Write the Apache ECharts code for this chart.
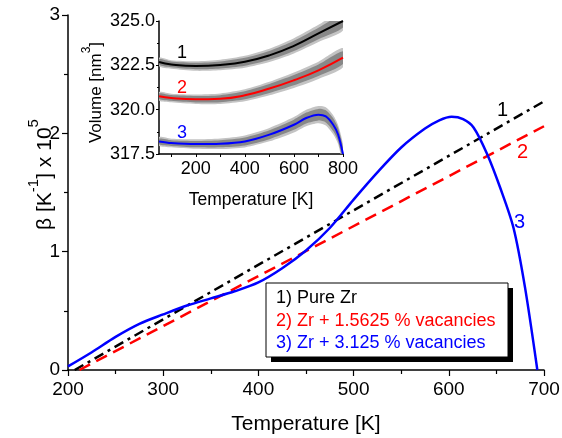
<!DOCTYPE html>
<html>
<head>
<meta charset="utf-8">
<script src="https://cdn.jsdelivr.net/npm/echarts@6/dist/echarts.min.js"></script>
<style>
  html, body { margin: 0; padding: 0; background: #fff; }
  #chart { width: 562px; height: 438px; }
</style>
</head>
<body>
<div id="chart"></div>
<script>
// 主图数据: β (x 10^5) 随温度变化
var pureT = [207, 700];
var pureBeta = [0, 2.27];
var vac1T = [212, 700];
var vac1Beta = [0, 2.06];
var vac2T = [200, 225, 250, 275, 300, 325, 350, 375, 400, 425, 450, 475, 500, 525, 550, 575, 590, 603, 615, 626, 640, 654, 668, 680, 693];
var vac2Beta = [0.03, 0.15, 0.28, 0.39, 0.47, 0.545, 0.605, 0.665, 0.74, 0.86, 1.01, 1.2, 1.44, 1.67, 1.88, 2.04, 2.11, 2.14, 2.12, 2.05, 1.83, 1.54, 1.2, 0.70, 0];

// 插图数据: 体积 (nm^3)
var insetT = [50, 100, 200, 300, 400, 500, 600, 700, 800];
var vol1 = [322.69, 322.55, 322.46, 322.52, 322.7, 323.06, 323.6, 324.3, 325.0];
var vol2 = [320.76, 320.66, 320.59, 320.62, 320.81, 321.19, 321.66, 322.22, 322.93];
var noise12 = [0.18, 0.18, 0.2, 0.22, 0.25, 0.28, 0.32, 0.36, 0.4];
var insetT3 = [50, 100, 200, 300, 400, 500, 600, 650, 700, 730, 760, 780, 800];
var vol3 = [318.21, 318.12, 318.06, 318.08, 318.21, 318.59, 319.15, 319.53, 319.72, 319.62, 319.15, 318.6, 317.5];
var noise3 = [0.18, 0.18, 0.2, 0.22, 0.25, 0.28, 0.32, 0.34, 0.36, 0.38, 0.4, 0.4, 0.4];

var FONT = 'Liberation Sans, Arial, sans-serif';

function pairs(xs, ys) {
  var out = [];
  for (var i = 0; i < xs.length; i++) out.push([xs[i], ys[i]]);
  return out;
}

// 灰色噪声带: 用 custom 多边形 (上沿 + 反向下沿)
function bandSeries(xs, ys, noise, scale, color) {
  return {
    type: 'custom', xAxisIndex: 1, yAxisIndex: 1, silent: true, clip: true,
    data: [[xs[0], ys[0]]],
    encode: { x: 0, y: 1 },
    renderItem: function(params, api) {
      var pts = [];
      for (var i = 0; i < xs.length; i++) pts.push(api.coord([xs[i], ys[i] + noise[i] * scale]));
      for (var j = xs.length - 1; j >= 0; j--) pts.push(api.coord([xs[j], ys[j] - noise[j] * scale]));
      return { type: 'polygon', shape: { points: pts, smooth: 0.25 }, style: { fill: color } };
    }
  };
}

var series = [
  { type: 'line', data: pairs(pureT, pureBeta), symbol: 'none',
    lineStyle: { color: '#000', width: 2.5, type: [10, 5, 3, 5] } },
  { type: 'line', data: pairs(vac1T, vac1Beta), symbol: 'none',
    lineStyle: { color: '#ff0000', width: 2.5, type: [12, 7] } },
  { type: 'line', data: pairs(vac2T, vac2Beta), symbol: 'none', smooth: 0.3,
    lineStyle: { color: '#0000ff', width: 2.5 } },
  bandSeries(insetT, vol1, noise12, 1.35, '#c4c4c4'),
  bandSeries(insetT, vol2, noise12, 1.35, '#c4c4c4'),
  bandSeries(insetT3, vol3, noise3, 1.35, '#c4c4c4'),
  bandSeries(insetT, vol1, noise12, 0.9, '#888888'),
  bandSeries(insetT, vol2, noise12, 0.9, '#888888'),
  bandSeries(insetT3, vol3, noise3, 0.9, '#888888'),
  { type: 'line', xAxisIndex: 1, yAxisIndex: 1, data: pairs(insetT, vol1), symbol: 'none', smooth: true,
    lineStyle: { color: '#000', width: 2 } },
  { type: 'line', xAxisIndex: 1, yAxisIndex: 1, data: pairs(insetT, vol2), symbol: 'none', smooth: true,
    lineStyle: { color: '#ff0000', width: 2 } },
  { type: 'line', xAxisIndex: 1, yAxisIndex: 1, data: pairs(insetT3, vol3), symbol: 'none', smooth: 0.3,
    lineStyle: { color: '#0000ff', width: 2 } }
];

var axisLine = { show: true, onZero: false, lineStyle: { color: '#000', width: 1.5 } };

var chart = echarts.init(document.getElementById('chart'));
chart.setOption({
  animation: false,
  textStyle: { fontFamily: FONT },
  grid: [
    { left: 68, right: 18, top: 15, bottom: 68, containLabel: false, outerBoundsMode: 'none' },
    { left: 159, width: 184, top: 21, height: 133, containLabel: false, outerBoundsMode: 'none' }
  ],
  xAxis: [
    { type: 'value', gridIndex: 0, min: 200, max: 700, interval: 100,
      name: 'Temperature [K]', nameLocation: 'middle', nameGap: 44,
      nameTextStyle: { color: '#000', fontFamily: FONT, fontSize: 21 },
      axisLine: axisLine, splitLine: { show: false },
      axisTick: { show: true, length: 6, lineStyle: { color: '#000', width: 1.2 } },
      minorTick: { show: true, splitNumber: 2, length: 4, lineStyle: { color: '#000', width: 1.2 } },
      axisLabel: { color: '#000', fontSize: 19, margin: 10, fontFamily: FONT } },
    { type: 'value', gridIndex: 1, min: 50, max: 800,
      name: 'Temperature [K]', nameLocation: 'middle', nameGap: 37,
      nameTextStyle: { color: '#000', fontFamily: FONT, fontSize: 17.5 },
      axisLine: axisLine, splitLine: { show: false },
      axisTick: { show: true, length: 3, customValues: [100, 200, 300, 400, 500, 600, 700, 800],
        lineStyle: { color: '#000', width: 1 } },
      axisLabel: { color: '#000', fontSize: 18, margin: 6, fontFamily: FONT,
        customValues: [200, 400, 600, 800] } }
  ],
  yAxis: [
    { type: 'value', gridIndex: 0, min: 0, max: 3, interval: 1,
      name: '{a|β [K}{s|-1}{a|] x 10}{s|5}', nameLocation: 'middle', nameGap: 12, nameRotate: 90,
      nameMoveOverlap: false,
      nameTextStyle: {
        color: '#000', fontFamily: FONT, padding: [0, 0, 0, 36],
        rich: {
          a: { fontSize: 21, color: '#000', fontFamily: FONT, lineHeight: 30, verticalAlign: 'bottom' },
          s: { fontSize: 15, color: '#000', fontFamily: FONT, lineHeight: 30, verticalAlign: 'top' }
        }
      },
      axisLine: axisLine, splitLine: { show: false },
      axisTick: { show: true, length: 6, lineStyle: { color: '#000', width: 1.2 } },
      minorTick: { show: true, splitNumber: 2, length: 4, lineStyle: { color: '#000', width: 1.2 } },
      axisLabel: { color: '#000', fontSize: 19, margin: 8, fontFamily: FONT } },
    { type: 'value', gridIndex: 1, min: 317.5, max: 325, interval: 2.5,
      name: '{a|Volume [nm}{s|3}{a|]}', nameLocation: 'middle', nameGap: 54, nameRotate: 90,
      nameMoveOverlap: false,
      nameTextStyle: {
        color: '#000', fontFamily: FONT, padding: [0, 10, 0, 0],
        rich: {
          a: { fontSize: 17, color: '#000', fontFamily: FONT, lineHeight: 24, verticalAlign: 'bottom' },
          s: { fontSize: 12, color: '#000', fontFamily: FONT, lineHeight: 24, verticalAlign: 'top' }
        }
      },
      axisLine: axisLine, splitLine: { show: false },
      axisTick: { show: true, length: 3, lineStyle: { color: '#000', width: 1 } },
      minorTick: { show: true, splitNumber: 2, length: 2, lineStyle: { color: '#000', width: 1 } },
      axisLabel: { color: '#000', fontSize: 18, margin: 4, fontFamily: FONT,
        formatter: function(v) { return v.toFixed(1); } } }
  ],
  graphic: [
    // 曲线编号
    { type: 'text', left: 497, top: 100, style: { text: '1', fill: '#000', fontSize: 20, fontFamily: FONT } },
    { type: 'text', left: 517, top: 142, style: { text: '2', fill: '#ff0000', fontSize: 20, fontFamily: FONT } },
    { type: 'text', left: 514, top: 212, style: { text: '3', fill: '#0000ff', fontSize: 20, fontFamily: FONT } },
    { type: 'text', left: 177, top: 44, style: { text: '1', fill: '#000', fontSize: 18, fontFamily: FONT } },
    { type: 'text', left: 177, top: 79, style: { text: '2', fill: '#ff0000', fontSize: 18, fontFamily: FONT } },
    { type: 'text', left: 177, top: 124, style: { text: '3', fill: '#0000ff', fontSize: 18, fontFamily: FONT } },
    // 图例框 + 阴影
    { type: 'rect', shape: { x: 271, y: 288, width: 242, height: 74 }, style: { fill: '#000' }, z: 10 },
    { type: 'rect', shape: { x: 266, y: 283, width: 242, height: 74 },
      style: { fill: '#fff', stroke: '#000', lineWidth: 1 }, z: 11 },
    { type: 'text', left: 276, top: 289, z: 12,
      style: { text: '1) Pure Zr', fill: '#000', fontSize: 18, fontFamily: FONT } },
    { type: 'text', left: 276, top: 312, z: 12,
      style: { text: '2) Zr + 1.5625 % vacancies', fill: '#ff0000', fontSize: 18, fontFamily: FONT } },
    { type: 'text', left: 276, top: 334, z: 12,
      style: { text: '3) Zr + 3.125 % vacancies', fill: '#0000ff', fontSize: 18, fontFamily: FONT } }
  ],
  series: series
});
</script>
</body>
</html>
